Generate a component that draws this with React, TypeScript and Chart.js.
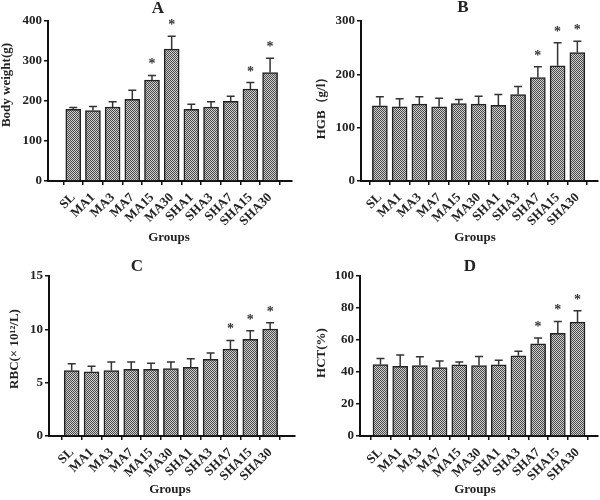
import React, { useEffect, useRef } from "react";
import { Chart, registerables } from "chart.js";

Chart.register(...registerables);

const groups = ["SL", "MA1", "MA3", "MA7", "MA15", "MA30", "SHA1", "SHA3", "SHA7", "SHA15", "SHA30"];

const bodyWeight = [179, 176, 185, 204, 252, 330, 179, 185, 199, 230, 271];
const bodyWeightErr = [5, 10, 13, 23, 12, 32, 13, 13, 13, 16, 36];
const bodyWeightSig = [false, false, false, false, true, true, false, false, false, true, true];
const bodyWeightTicks = [0, 100, 200, 300, 400];

const hgb = [141, 139, 144, 139, 145, 144, 142, 162, 194, 216, 241];
const hgbErr = [17, 15, 14, 16, 8, 15, 20, 15, 20, 43, 21];
const hgbSig = [false, false, false, false, false, false, false, false, true, true, true];
const hgbTicks = [0, 100, 200, 300];

const rbc = [6.14, 6.02, 6.14, 6.24, 6.24, 6.33, 6.43, 7.18, 8.15, 9.06, 10.03];
const rbcErr = [0.63, 0.53, 0.79, 0.69, 0.59, 0.6, 0.81, 0.59, 0.81, 0.81, 0.59];
const rbcSig = [false, false, false, false, false, false, false, false, true, true, true];
const rbcTicks = [0, 5, 10, 15];

const hct = [44.7, 43.6, 44, 42.8, 44.5, 44, 44.5, 50.1, 57.6, 64.1, 71.2];
const hctErr = [3.7, 7.1, 5.5, 4, 1.8, 5.7, 2.9, 2.9, 3.6, 7.5, 7.1];
const hctSig = [false, false, false, false, false, false, false, false, true, true, true];
const hctTicks = [0, 20, 40, 60, 80, 100];

const FONT = "'Liberation Serif', 'DejaVu Serif', serif";

type PanelCfg = {
  title: string;
  yLabel: string;
  values: number[];
  errors: number[];
  sig: boolean[];
  yTicks: number[];
  pos: { x: number; y: number };
  area: { l: number; t: number; r: number; b: number };
  xMin: number;
  xMax: number;
  titleAt: [number, number];
  yLabelAt: [number, number];
  groupsAt: [number, number];
};

const panels: PanelCfg[] = [
  {
    title: "A", yLabel: "Body weight(g)", values: bodyWeight, errors: bodyWeightErr, sig: bodyWeightSig, yTicks: bodyWeightTicks,
    pos: { x: 0, y: 0 }, area: { l: 48, t: 21, r: 292, b: 181 }, xMin: -0.72, xMax: 10.55,
    titleAt: [158, 9], yLabelAt: [7, 85], groupsAt: [169, 238],
  },
  {
    title: "B", yLabel: "HGB（g/l）", values: hgb, errors: hgbErr, sig: hgbSig, yTicks: hgbTicks,
    pos: { x: 300, y: 0 }, area: { l: 61, t: 21, r: 298, b: 181 }, xMin: -0.41, xMax: 10.5,
    titleAt: [163, 8], yLabelAt: [22, 105], groupsAt: [175, 238],
  },
  {
    title: "C", yLabel: "RBC(× 10¹²/L)", values: rbc, errors: rbcErr, sig: rbcSig, yTicks: rbcTicks,
    pos: { x: 0, y: 250 }, area: { l: 49, t: 26, r: 295, b: 186 }, xMin: -0.58, xMax: 10.69,
    titleAt: [137, 17], yLabelAt: [15, 99], groupsAt: [170, 240],
  },
  {
    title: "D", yLabel: "HCT(%)", values: hct, errors: hctErr, sig: hctSig, yTicks: hctTicks,
    pos: { x: 300, y: 250 }, area: { l: 60, t: 26, r: 298, b: 186 }, xMin: -0.49, xMax: 10.49,
    titleAt: [170, 17], yLabelAt: [22, 103], groupsAt: [175, 240],
  },
];

const W = 300;
const H = 250;
const Y_WIDTH = 40;

function makePattern(): CanvasPattern | string {
  const c = document.createElement("canvas");
  c.width = 2;
  c.height = 2;
  const g = c.getContext("2d");
  if (!g) return "#999";
  g.fillStyle = "#d0d0d0";
  g.fillRect(0, 0, 2, 2);
  g.fillStyle = "#4a4a4a";
  g.fillRect(0, 0, 1, 1);
  g.fillRect(1, 1, 1, 1);
  const p = g.createPattern(c, "repeat");
  return p || "#999";
}

function Panel({ cfg }: { cfg: PanelCfg }) {
  const ref = useRef<HTMLCanvasElement | null>(null);
  useEffect(() => {
    if (!ref.current) return;
    const pattern = makePattern();
    const overlay = {
      id: "overlay",
      afterDatasetsDraw(chart: any) {
        const ctx = chart.ctx;
        const meta = chart.getDatasetMeta(0);
        const ys = chart.scales.y;
        ctx.save();
        ctx.strokeStyle = "#333";
        ctx.lineWidth = 1.5;
        meta.data.forEach((el: any, i: number) => {
          const top = ys.getPixelForValue(cfg.values[i] + cfg.errors[i]);
          ctx.beginPath();
          ctx.moveTo(el.x, el.y);
          ctx.lineTo(el.x, top);
          ctx.moveTo(el.x - 4, top);
          ctx.lineTo(el.x + 4, top);
          ctx.stroke();
          if (cfg.sig[i]) {
            ctx.fillStyle = "#333";
            ctx.font = `bold 14px ${FONT}`;
            ctx.textAlign = "center";
            ctx.textBaseline = "alphabetic";
            ctx.fillText("*", el.x, top - 7);
          }
        });
        ctx.restore();
      },
      afterDraw(chart: any) {
        const ctx = chart.ctx;
        ctx.save();
        ctx.fillStyle = "#222";
        ctx.textAlign = "center";
        ctx.textBaseline = "middle";
        ctx.font = `bold 17px ${FONT}`;
        ctx.fillText(cfg.title, cfg.titleAt[0], cfg.titleAt[1]);
        ctx.font = `bold 13px ${FONT}`;
        ctx.fillText("Groups", cfg.groupsAt[0], cfg.groupsAt[1]);
        ctx.translate(cfg.yLabelAt[0], cfg.yLabelAt[1]);
        ctx.rotate(-Math.PI / 2);
        ctx.font = `bold 13px ${FONT}`;
        ctx.fillText(cfg.yLabel, 0, 0);
        ctx.restore();
      },
    };
    const yMax = cfg.yTicks[cfg.yTicks.length - 1];
    const chart = new Chart(ref.current, {
      type: "bar",
      data: {
        datasets: [
          {
            data: cfg.values.map((v, i) => ({ x: i, y: v })),
            backgroundColor: pattern as any,
            borderColor: "#222",
            borderWidth: 1.5,
            barThickness: 15,
          },
        ],
      },
      options: {
        animation: false,
        responsive: false,
        devicePixelRatio: 1,
        layout: { padding: { left: cfg.area.l - Y_WIDTH, top: cfg.area.t, right: W - cfg.area.r, bottom: 0 } },
        plugins: { legend: { display: false }, tooltip: { enabled: false }, title: { display: false } },
        scales: {
          x: {
            type: "linear",
            min: cfg.xMin,
            max: cfg.xMax,
            afterBuildTicks: (s: any) => {
              s.ticks = groups.map((_, i) => ({ value: i }));
            },
            afterFit: (s: any) => {
              s.height = H - cfg.area.b;
            },
            ticks: {
              autoSkip: false,
              minRotation: 45,
              maxRotation: 45,
              padding: 5,
              color: "#222",
              font: { family: FONT, size: 13, weight: "bold" },
              callback: (_v: any, i: number) => groups[i],
            },
            grid: { display: true, drawOnChartArea: false, drawTicks: true, tickLength: 4, color: "#111", lineWidth: 1.5 },
            border: { display: true, color: "#111", width: 2 },
          },
          y: {
            min: 0,
            max: yMax,
            afterBuildTicks: (s: any) => {
              s.ticks = cfg.yTicks.map((v) => ({ value: v }));
            },
            afterFit: (s: any) => {
              s.width = Y_WIDTH;
            },
            ticks: {
              padding: 2,
              color: "#222",
              font: { family: FONT, size: 13, weight: "bold" },
            },
            grid: { display: true, drawOnChartArea: false, drawTicks: true, tickLength: 4, color: "#111", lineWidth: 1.5 },
            border: { display: true, color: "#111", width: 2 },
          },
        },
      } as any,
      plugins: [overlay],
    });
    return () => chart.destroy();
  }, [cfg]);
  return (
    <canvas
      ref={ref}
      width={W}
      height={H}
      style={{ position: "absolute", left: cfg.pos.x, top: cfg.pos.y, width: W, height: H }}
    />
  );
}

export default function App() {
  return (
    <div style={{ position: "absolute", left: 0, top: 0, width: 600, height: 500, background: "#fff" }}>
      {panels.map((p) => (
        <Panel key={p.title} cfg={p} />
      ))}
    </div>
  );
}
